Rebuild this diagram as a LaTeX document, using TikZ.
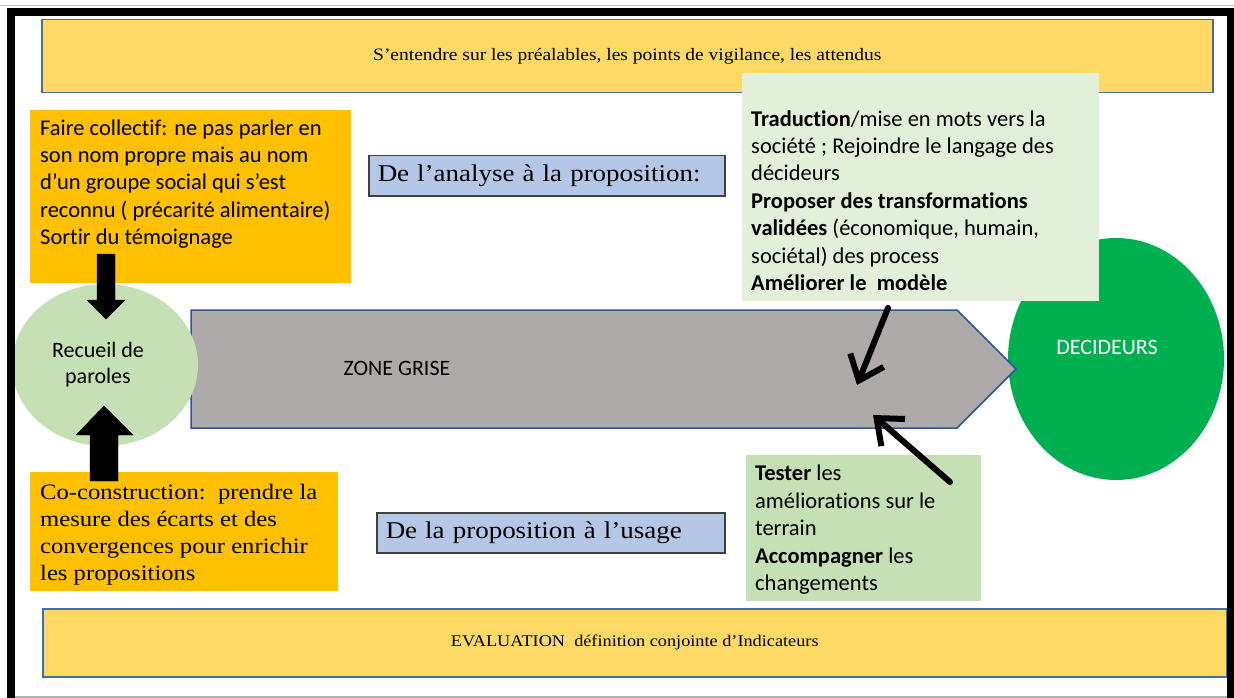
\documentclass[tikz,border=0pt]{standalone}
\usepackage{fontspec}
\setmainfont{Liberation Serif}[FakeStretch=1.12]
\newfontfamily\calibri{Carlito}[Ligatures=NoCommon]
\usetikzlibrary{arrows.meta,shapes.geometric}
\definecolor{bannerjaune}{HTML}{FFD966}
\definecolor{orangebox}{HTML}{FFC000}
\definecolor{vertclair}{HTML}{C5E0B4}
\definecolor{vertpale}{HTML}{E2F0D9}
\definecolor{bleubox}{HTML}{B4C7E7}
\definecolor{grisbox}{HTML}{AEAAAA}
\definecolor{vertfonce}{HTML}{00B050}
\definecolor{bordbleu}{HTML}{41719C}
\definecolor{bordzone}{HTML}{2F5597}
\definecolor{bordgris}{HTML}{404040}

\begin{document}
\begin{tikzpicture}[x=1pt,y=-1pt,
  banner/.style={draw=bordbleu, line width=1.5pt, fill=bannerjaune, inner sep=0pt, anchor=north west},
  pave/.style={inner sep=0pt, anchor=north west},
  corps/.style={inner sep=0pt, anchor=north west, align=left},
  bleu/.style={draw=bordgris, line width=1.5pt, fill=bleubox, anchor=north west, inner xsep=9pt, inner ysep=0pt, minimum height=40pt, align=left, font=\fontsize{24.1}{28}\selectfont},
  bulle/.style={ellipse, inner sep=0pt},
  fleche/.style={line width=6pt, line cap=round, -{Straight Barb[length=22pt,width=36pt]}},
  bloc/.style={fill=black}
]
\useasboundingbox (0,0) rectangle (1234,698);
\fill[white] (0,0) rectangle (1234,698);

\node[bulle, fill=vertfonce, minimum width=216pt, minimum height=242pt] (decideurs) at (1116,359) {};
\node[font=\calibri\fontsize{22}{26}\selectfont, text=white] (decideurslbl) at (1107,347) {DECIDEURS};

\draw[fill=grisbox, draw=bordzone, line width=1.5pt] (191,310) -- (957,310) -- (1016,369) -- (957,428) -- (191,428) -- cycle;
\node[font=\calibri\fontsize{22}{26}\selectfont] (zone) at (397,368) {ZONE GRISE};

\node[bulle, fill=vertclair, minimum width=186pt, minimum height=162pt] (recueil) at (105,365) {};
\node[font=\calibri\fontsize{22}{26}\selectfont, align=center] (recueillbl) at (98,365) {Recueil de\\paroles};

\node[banner, minimum width=1171pt, minimum height=73pt, font=\fontsize{17.4}{20}\selectfont] (prealables) at (41,19) {S’entendre sur les préalables, les points de vigilance, les attendus};
\node[banner, minimum width=1184pt, minimum height=68pt, font=\fontsize{16.3}{20}\selectfont] (evaluation) at (42,608) {EVALUATION\ \ définition conjointe d’Indicateurs};

\node[pave, fill=orangebox, minimum width=321pt, minimum height=173pt] (faire) at (30,110) {};
\node[corps, font=\calibri\fontsize{22.5}{27.4}\selectfont] (fairetxt) at (40,115.8) {\strut Faire collectif: ne pas parler en\\son nom propre mais au nom\\d’un groupe social qui s’est\\reconnu ( précarité alimentaire)\\Sortir du témoignage};

\node[pave, fill=orangebox, minimum width=308pt, minimum height=119pt] (coconst) at (30,472) {};
\node[corps, font=\fontsize{22}{27}\selectfont] (coconsttxt) at (40,480) {\strut Co-construction:\ \ prendre la\\mesure des écarts et des\\convergences pour enrichir\\les propositions};

\node[bleu, text width=338pt] (analyse) at (368,155) {De l’analyse à la proposition:};
\node[bleu, text width=330pt] (usage) at (376,512) {De la proposition à l’usage};

\node[pave, fill=vertpale, minimum width=357pt, minimum height=228pt] (traduction) at (742,73) {};
\node[corps, font=\calibri\fontsize{22.5}{27.4}\selectfont] (traductiontxt) at (751,106.8) {\strut\textbf{Traduction}/mise en mots vers la\\société ; Rejoindre le langage des\\décideurs\\\textbf{Proposer des transformations}\\\textbf{validées} (économique, humain,\\sociétal) des process\\\textbf{Améliorer le\ \ modèle}};

\node[pave, fill=vertclair, minimum width=235pt, minimum height=146pt] (tester) at (746,455) {};
\node[corps, font=\calibri\fontsize{22.5}{27.5}\selectfont] (testertxt) at (755,461.5) {\strut\textbf{Tester} les\\améliorations sur le\\terrain\\\textbf{Accompagner} les\\changements};

\draw[bloc] (97,254) -- (115,254) -- (115,300) -- (125,300) -- (106,319) -- (87,300) -- (97,300) -- cycle;
\draw[bloc] (90,481) -- (118,481) -- (118,435) -- (133,435) -- (104,406) -- (76,435) -- (90,435) -- cycle;

\coordinate (haut1) at (888,308);
\coordinate (bas1) at (857,385);
\coordinate (haut2) at (950,482);
\coordinate (bas2) at (873,415);
\draw[fleche] (haut1) -- (bas1);
\draw[fleche] (haut2) -- (bas2);

\draw[gray!50, line width=1pt] (0,6) -- (1234,6);
\draw[gray!60, line width=1.5pt] (15,697) -- (1227,697);
\draw[black, line width=8pt] (11,698) -- (11,12) -- (1231,12) -- (1231,698);
\end{tikzpicture}
\end{document}
